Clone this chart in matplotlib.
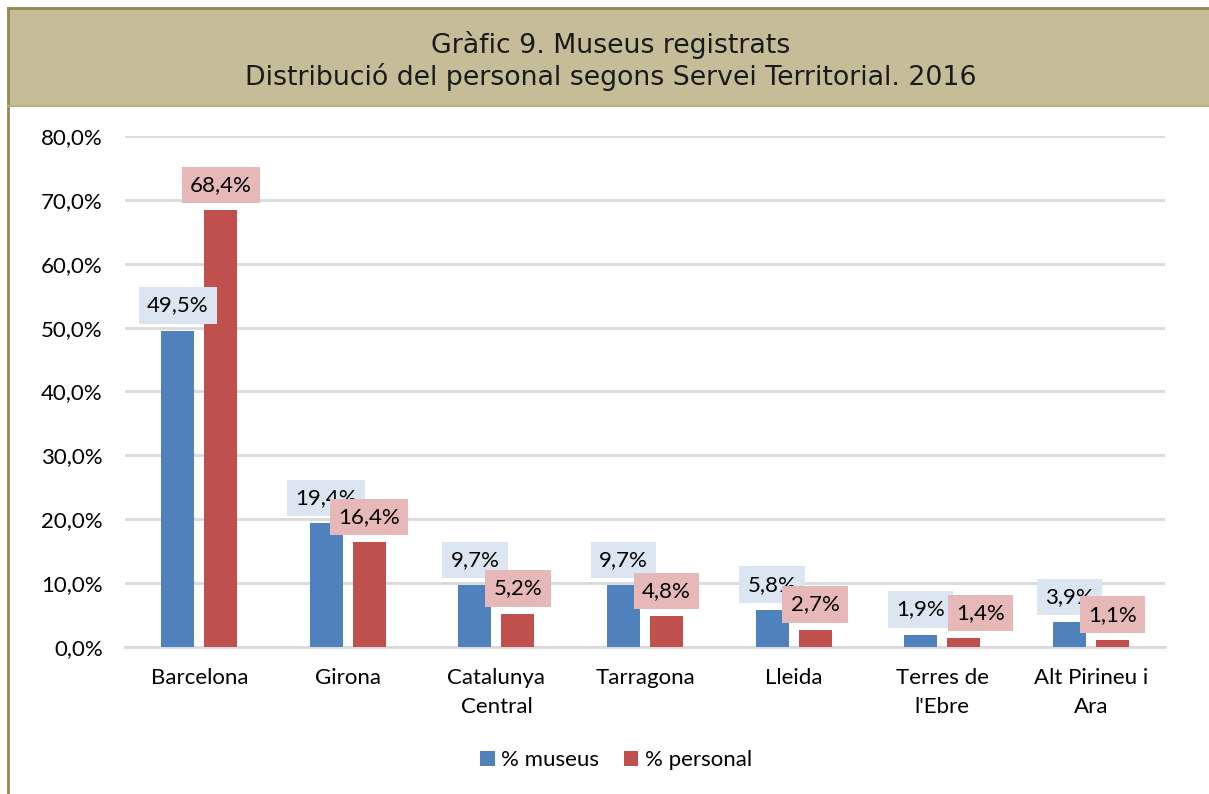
import numpy as np
import matplotlib.pyplot as plt
from matplotlib.patches import Rectangle
from matplotlib.lines import Line2D

# dades
categories = ['Barcelona', 'Girona', 'Catalunya\nCentral', 'Tarragona', 'Lleida',
              "Terres de\nl'Ebre", 'Alt Pirineu i\nAra']
museus = [49.5, 19.4, 9.7, 9.7, 5.8, 1.9, 3.9]
personal = [68.4, 16.4, 5.2, 4.8, 2.7, 1.4, 1.1]
yticks = [0, 10, 20, 30, 40, 50, 60, 70, 80]

blau = '#4f81bd'
vermell = '#c0504d'

plt.rcParams['font.family'] = ['Lato', 'DejaVu Sans']

fig = plt.figure(figsize=(12.09, 7.94), dpi=100)

# banda del títol
fig.patches.append(Rectangle((8 / 1209, 1 - 106 / 794), 1 - 8 / 1209, 98 / 794,
                             transform=fig.transFigure, facecolor='#c4bd97',
                             edgecolor='none', zorder=0))
fig.lines.append(Line2D([8 / 1209, 1], [1 - 8 / 794, 1 - 8 / 794], transform=fig.transFigure,
                        color='#938953', lw=2))
fig.lines.append(Line2D([8 / 1209, 8 / 1209], [1 - 8 / 794, 0], transform=fig.transFigure,
                        color='#938953', lw=2))
fig.lines.append(Line2D([8 / 1209, 1], [1 - 106 / 794, 1 - 106 / 794], transform=fig.transFigure,
                        color='#b5ae86', lw=1.5))
fig.text(0.505, 1 - 61 / 794, 'Gràfic 9. Museus registrats\nDistribució del personal segons Servei Territorial. 2016',
         ha='center', va='center', fontsize=19.3, family='DejaVu Sans', linespacing=1.15,
         color='#1a1a1a')

ax = fig.add_axes([125 / 1209, 1 - 647 / 794, 1040 / 1209, 511 / 794])

x = np.arange(len(categories))
w = 0.222
off = 0.145
b1 = ax.bar(x - off, museus, w, color=blau, label='% museus', zorder=3)
b2 = ax.bar(x + off, personal, w, color=vermell, label='% personal', zorder=3)

# petit desplaçament de l'etiqueta de Terres de l'Ebre (com a l'original)
nudge_personal = {5: 12}

caixa = 'round,pad=0.38,rounding_size=0'
for i, (xi, v) in enumerate(zip(x - off, museus)):
    ax.annotate(f'{v:.1f}%'.replace('.', ','), (xi, v), xytext=(0, 11), textcoords='offset points',
                ha='center', va='bottom', fontsize=16, zorder=5,
                bbox=dict(boxstyle='square,pad=0.37', facecolor='#dce6f2', edgecolor='none'))
for i, (xi, v) in enumerate(zip(x + off, personal)):
    ax.annotate(f'{v:.1f}%'.replace('.', ','), (xi, v), xytext=(nudge_personal.get(i, 0), 11),
                textcoords='offset points', ha='center', va='bottom', fontsize=16, zorder=6,
                bbox=dict(boxstyle='square,pad=0.37', facecolor='#e6b9b8', edgecolor='none'))

ax.set_xlim(-0.5, len(categories) - 0.5)
ax.set_ylim(0, 80)
ax.set_yticks(yticks)
ax.set_yticklabels([f'{t:.1f}%'.replace('.', ',') for t in yticks], fontsize=16)
ax.set_xticks(x)
ax.set_xticklabels(categories, fontsize=16, va='top', linespacing=1.55)
ax.tick_params(axis='both', length=0)
ax.tick_params(axis='y', pad=16)
ax.tick_params(axis='x', pad=15)
ax.grid(axis='y', color='#d9d9d9', lw=2, zorder=0)
ax.set_axisbelow(True)
for s in ['top', 'right', 'left']:
    ax.spines[s].set_visible(False)
ax.spines['bottom'].set_color('#d9d9d9')
ax.spines['bottom'].set_linewidth(2)

fig.legend(handles=[b1, b2], loc='center', bbox_to_anchor=(616 / 1209, 1 - 760 / 794),
           ncol=2, frameon=False, fontsize=16, handlelength=0.65, handleheight=0.65,
           columnspacing=1.1, handletextpad=0.3)

fig.savefig('out.png', dpi=100)
